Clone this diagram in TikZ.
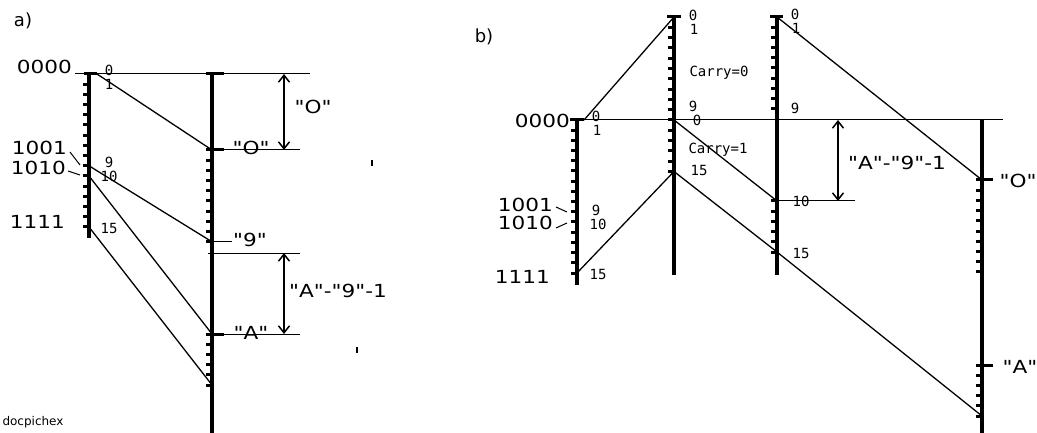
\documentclass[tikz,border=0pt]{standalone}
\usepackage{fontspec}
\setmainfont{DejaVu Sans}
\newfontfamily\widefont[FakeStretch=1.2]{DejaVu Sans}
\newfontfamily\monofont{DejaVu Sans Mono}
\usetikzlibrary{arrows.meta}
\begin{document}
\begin{tikzpicture}[x=1pt,y=-1pt,
  scaleline/.style={line width=3.2pt},
  tickmark/.style={line width=3pt},
  thinline/.style={line width=1pt},
  conn/.style={line width=1.3pt},
  dimarrow/.style={line width=1.5pt,{Straight Barb[length=7pt,width=11pt,line width=1.5pt]}-{Straight Barb[length=7pt,width=11pt,line width=1.5pt]}},
  big/.style={font=\widefont\fontsize{18}{18}\selectfont, inner sep=0pt},
  small/.style={font=\monofont\fontsize{14}{14}\selectfont, inner sep=0pt},
  panel/.style={font=\fontsize{18}{18}\selectfont, inner sep=0pt},
  stray/.style={line width=1.4pt}
]
\useasboundingbox (0,0) rectangle (1037,433);

% ================= panel a =================
\node[panel] (alab) at (23,21) {a)};
\node[font=\fontsize{12}{12}\selectfont, inner sep=0pt] (doc) at (33,422) {docpichex};

% left scale
\draw[scaleline] (89,74) -- (89,238);
\draw[tickmark] (84,74) -- (97,74);
\foreach \i in {1,...,15} \draw[tickmark] (83,74+\i*10.2) -- (89,74+\i*10.2);
\coordinate (aL0) at (97,74);
\coordinate (aL9) at (89,165.8);
\coordinate (aL10) at (89,176);
\coordinate (aL15) at (89,227);

% right scale
\draw[scaleline] (212,74) -- (212,433);
\draw[tickmark] (206,74) -- (224,74);
\foreach \i in {0,...,9} \draw[tickmark] (206,150+\i*10.2) -- (212,150+\i*10.2);
\foreach \i in {0,...,5} \draw[tickmark] (206,334+\i*10.2) -- (212,334+\i*10.2);
\draw[tickmark] (212,150) -- (224,150);
\draw[tickmark] (212,334) -- (224,334);
\coordinate (aR0) at (212,150);
\coordinate (aR9) at (212,241.8);
\coordinate (aRA) at (212,334);
\coordinate (aRF) at (212,385);

% connectors
\draw[conn] (aL0) -- (aR0);
\draw[conn] (aL9) -- (aR9);
\draw[conn] (aL10) -- (aRA);
\draw[conn] (aL15) -- (aRF);

% horizontals
\coordinate (ah1a) at (75,74);   \coordinate (ah1b) at (310,74);
\coordinate (ah2a) at (224,150); \coordinate (ah2b) at (300,150);
\coordinate (ah3a) at (208,253); \coordinate (ah3b) at (300,253);
\coordinate (ah4a) at (224,334); \coordinate (ah4b) at (300,334);
\draw[thinline] (ah1a) -- (ah1b);
\draw[thinline] (ah2a) -- (ah2b);
\draw[thinline] (ah3a) -- (ah3b);
\draw[thinline] (ah4a) -- (ah4b);
\coordinate (a9t) at (232,241.8);
\draw[thinline] (aR9) -- (a9t);

% dimension arrows
\coordinate (ad1a) at (284,74);  \coordinate (ad1b) at (284,150);
\coordinate (ad2a) at (284,253); \coordinate (ad2b) at (284,334);
\draw[dimarrow] (ad1a) -- (ad1b);
\draw[dimarrow] (ad2a) -- (ad2b);

% labels
\node[big, anchor=east] (a0000) at (72,67) {0000};
\node[big, anchor=east] (a1001) at (67,148) {1001};
\node[big, anchor=east] (a1010) at (66,168) {1010};
\node[big, anchor=east] (a1111) at (65,222) {1111};
\coordinate (al1a) at (70,152); \coordinate (al1b) at (80,165);
\coordinate (al2a) at (68,171); \coordinate (al2b) at (80,175);
\draw[thinline] (al1a) -- (al1b);
\draw[thinline] (al2a) -- (al2b);

\node[small] (as0) at (109,70) {0};
\node[small] (as1) at (109,84) {1};
\node[small] (as9) at (109,162) {9};
\node[small] (as10) at (109,176.5) {10};
\node[small] (as15) at (109,228) {15};

\node[big] (aqO) at (251,148) {"O"};
\node[big] (aq9) at (250,240) {"9"};
\node[big] (aqA) at (251,333) {"A"};
\node[big] (adimO) at (313,107) {"O"};
\node[big] (adimA) at (338,291) {"A"-"9"-1};

\draw[stray] (372,160) -- (372,166);
\draw[stray] (357,347) -- (357,353);

% ================= panel b =================
\node[panel] (blab) at (484,37) {b)};

% scale B1
\draw[scaleline] (577,120) -- (577,285);
\draw[tickmark] (570,120) -- (584,120);
\foreach \i in {1,...,15} \draw[tickmark] (571,120+\i*10.2) -- (577,120+\i*10.2);
\coordinate (b1t) at (584,120);
\coordinate (b1f) at (577,273);

% scale B2
\draw[scaleline] (674,17) -- (674,275);
\draw[tickmark] (667,17) -- (681,17);
\foreach \i in {1,...,15} \draw[tickmark] (668,17+\i*10.3) -- (674,17+\i*10.3);
\coordinate (b2t) at (674,17);
\coordinate (b2z) at (674,120);
\coordinate (b2f) at (674,171.5);

% scale B3
\draw[scaleline] (777,17) -- (777,275);
\draw[tickmark] (770,17) -- (783,17);
\foreach \i in {1,...,9} \draw[tickmark] (771,17+\i*10.2) -- (777,17+\i*10.2);
\foreach \i in {0,...,5} \draw[tickmark] (771,201+\i*10.2) -- (777,201+\i*10.2);
\coordinate (b3t) at (777,17);
\coordinate (b3a) at (777,201);
\coordinate (b3f) at (777,252);

% scale B4
\draw[scaleline] (982,120) -- (982,433);
\foreach \i in {0,...,9} \draw[tickmark] (976,180+\i*10.2) -- (982,180+\i*10.2);
\foreach \i in {0,...,5} \draw[tickmark] (976,365+\i*10.2) -- (982,365+\i*10.2);
\draw[tickmark] (982,180) -- (993,180);
\draw[tickmark] (982,365) -- (993,365);
\coordinate (b40) at (982,180);
\coordinate (b4f) at (982,416);

% connectors
\draw[conn] (b1t) -- (b2t);
\draw[conn] (b1f) -- (b2f);
\draw[conn] (b2z) -- (b3a);
\draw[conn] (b2f) -- (b3f);
\draw[conn] (b3t) -- (b40);
\draw[conn] (b3f) -- (b4f);

% horizontals
\coordinate (bh1a) at (577,120); \coordinate (bh1b) at (1003,120);
\coordinate (bh2b) at (855,201);
\draw[thinline] (bh1a) -- (bh1b);
\draw[thinline] (b3a) -- (bh2b);

% dimension arrow
\coordinate (bd1a) at (838,120); \coordinate (bd1b) at (838,201);
\draw[dimarrow] (bd1a) -- (bd1b);

% labels
\node[big, anchor=east] (b0000) at (570,121) {0000};
\node[big, anchor=east] (b1001) at (553,205) {1001};
\node[big, anchor=east] (b1010) at (553,223) {1010};
\node[big, anchor=east] (b1111) at (550,277) {1111};
\coordinate (bl1a) at (556,207); \coordinate (bl1b) at (567,212);
\coordinate (bl2a) at (556,228); \coordinate (bl2b) at (567,223);
\draw[thinline] (bl1a) -- (bl1b);
\draw[thinline] (bl2a) -- (bl2b);

\node[small] (b1s0) at (596,116) {0};
\node[small] (b1s1) at (597,130) {1};
\node[small] (b1s9) at (596,210.5) {9};
\node[small] (b1s10) at (598,224.5) {10};
\node[small] (b1s15) at (598,274) {15};

\node[small] (b2s0) at (693,15) {0};
\node[small] (b2s1) at (694,29) {1};
\node[small] (b2s9) at (693,106) {9};
\node[small] (b2s0b) at (697,120) {0};
\node[small] (b2s15) at (699,170) {15};
\node[small] (carry0) at (719,73) {Carry=0};
\node[small] (carry1) at (718,150) {Carry=1};

\node[small] (b3s0) at (795,14) {0};
\node[small] (b3s1) at (796,28) {1};
\node[small] (b3s9) at (795,108) {9};
\node[small] (b3s10) at (801,201) {10};
\node[small] (b3s15) at (801,253) {15};

\node[big] (bdimA) at (897,163) {"A"-"9"-1};
\node[big] (bqO) at (1018,181) {"O"};
\node[big] (bqA) at (1020,367) {"A"};
\end{tikzpicture}
\end{document}
